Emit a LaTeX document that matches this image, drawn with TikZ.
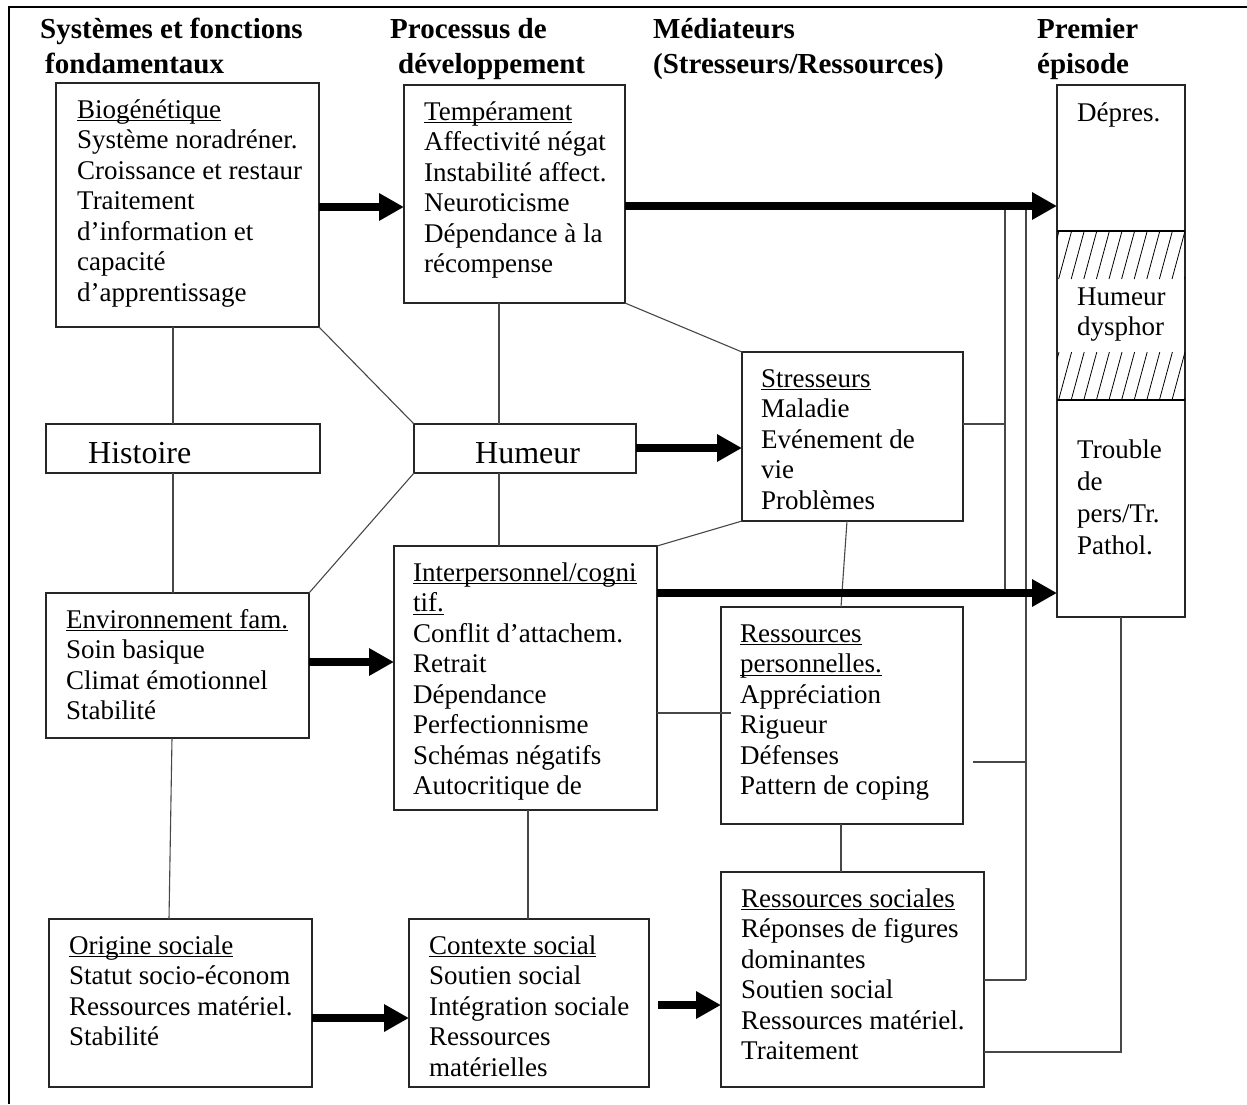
\documentclass[tikz,border=0pt]{standalone}
\usepackage{fontspec}
\setmainfont{Liberation Serif}
\usetikzlibrary{arrows.meta,calc}
\newsavebox\ulbox
\newcommand\FS{\rule{0pt}{0.93em}}
\newcommand\uln[1]{\sbox\ulbox{#1}\rlap{\rule[-3pt]{\wd\ulbox}{1.2pt}}\usebox\ulbox}
\newcommand\mkbox[5]{\node[boxst, minimum width=#4pt-#2pt, minimum height=#5pt-#3pt] (#1) at (#2,#3) {};}
\begin{document}
\begin{tikzpicture}[x=1pt,y=-1pt,
  boxst/.style={draw=black!85, line width=1.3pt, inner sep=0pt, outer sep=0pt, anchor=north west},
  txt/.style={anchor=north west, inner sep=0pt, align=left, font=\fontsize{27}{30.5}\selectfont},
  big/.style={anchor=base west, inner sep=0pt, font=\fontsize{32}{36}\selectfont},
  hdr/.style={anchor=north west, inner sep=0pt, align=left, font=\fontsize{29}{35}\selectfont\bfseries},
  conn/.style={draw=black!72, line width=1.1pt},
  fat/.style={line width=8pt, -{Triangle[length=25pt,width=26pt]}},
  hatch/.style={line width=0.8pt}]
\useasboundingbox (0,0) rectangle (1247,1104);
\fill[white] (0,0) rectangle (1247,1104);
% frame
\draw[line width=2.2pt] (1247,7) -- (9,7) -- (9,1104);
% headers
\node[hdr] (hd1) at (40,11) {\FS Systèmes et fonctions\\\hspace*{5pt}fondamentaux};
\node[hdr] (hd2) at (390,11) {\FS Processus de\\\hspace*{8pt}développement};
\node[hdr] (hd3) at (653,11) {\FS Médiateurs\\(Stresseurs/Ressources)};
\node[hdr] (hd4) at (1037,11) {\FS Premier\\épisode};
% boxes
\mkbox{bio}{56}{83}{319}{327}
\mkbox{temp}{404}{85}{625}{303}
\mkbox{hist}{46}{424}{320}{473}
\mkbox{hum}{414}{424}{636}{473}
\mkbox{stress}{742}{352}{963}{521}
\mkbox{inter}{394}{546}{657}{810}
\mkbox{env}{46}{593}{309}{738}
\mkbox{rpers}{721}{607}{963}{824}
\mkbox{orig}{49}{919}{312}{1087}
\mkbox{ctx}{409}{919}{649}{1087}
\mkbox{rsoc}{721}{872}{984}{1087}
\mkbox{prem}{1057}{85}{1185}{617}
% premier box inner
\coordinate (h231) at (0,231);
\coordinate (h400) at (0,400);
\begin{scope}
\clip (1057,231) rectangle (1185,279);
\foreach \i in {0,...,11} \draw[hatch] (1046+\i*12.6,279) -- ++(13,-48);
\end{scope}
\begin{scope}
\clip (1057,352) rectangle (1185,400);
\foreach \i in {0,...,11} \draw[hatch] (1046+\i*12.6,400) -- ++(13,-48);
\end{scope}
\draw[line width=1.1pt] (prem.west |- h231) -- (prem.east |- h231);
\draw[line width=1.1pt] (prem.west |- h400) -- (prem.east |- h400);
% texts
\node[txt] (bio-t) at (77,93) {\FS\uln{Biogénétique}\\Système noradréner.\\Croissance et restaur\\Traitement\\d’information et\\capacité\\d’apprentissage};
\node[txt] (temp-t) at (424,95) {\FS\uln{Tempérament}\\Affectivité négat\\Instabilité affect.\\Neuroticisme\\Dépendance à la\\récompense};
\node[big] (hist-t) at (88,463) {Histoire};
\node[big] (hum-t) at (475,463) {Humeur};
\node[txt] (stress-t) at (761,362) {\FS\uln{Stresseurs}\\Maladie\\Evénement de\\vie\\Problèmes};
\node[txt] (inter-t) at (413,556) {\FS\uln{Interpersonnel/cogni}\\\uln{tif.}\\Conflit d’attachem.\\Retrait\\Dépendance\\Perfectionnisme\\Schémas négatifs\\Autocritique de};
\node[txt] (env-t) at (66,603) {\FS\uln{Environnement fam.}\\Soin basique\\Climat émotionnel\\Stabilité};
\node[txt] (rpers-t) at (740,617) {\FS\uln{Ressources}\\\uln{personnelles.}\\Appréciation\\Rigueur\\Défenses\\Pattern de coping};
\node[txt] (orig-t) at (69,929) {\FS\uln{Origine sociale}\\Statut socio-économ\\Ressources matériel.\\Stabilité};
\node[txt] (ctx-t) at (429,929) {\FS\uln{Contexte social}\\Soutien social\\Intégration sociale\\Ressources\\matérielles};
\node[txt] (rsoc-t) at (741,882) {\FS\uln{Ressources sociales}\\Réponses de figures\\dominantes\\Soutien social\\Ressources matériel.\\Traitement};
\node[txt] (prem-t1) at (1077,96) {\FS Dépres.};
\node[txt] (prem-t2) at (1077,280) {\FS Humeur\\dysphor};
\node[txt, font=\fontsize{27}{32}\selectfont] (prem-t3) at (1077,433) {\FS Trouble\\de\\pers/Tr.\\Pathol.};
% helper coordinates
\coordinate (yA1) at (0,207);
\coordinate (yA2) at (0,206);
\coordinate (yA3) at (0,448);
\coordinate (yA4) at (0,662);
\coordinate (yA5) at (0,593);
\coordinate (yA6) at (0,1018);
\coordinate (yA7) at (0,1005);
\coordinate (x173) at (173,0);
\coordinate (x172) at (172,0);
\coordinate (x169) at (169,0);
\coordinate (x499) at (499,0);
\coordinate (x528) at (528,0);
\coordinate (x847) at (847,0);
\coordinate (x841) at (841,0);
\coordinate (yI) at (0,713);
\coordinate (yS) at (0,424);
\coordinate (yR) at (0,762);
\coordinate (v1t) at (1005,206);
\coordinate (v1b) at (1005,593);
\coordinate (v2t) at (1026,206);
\coordinate (v2b) at (1026,980);
\coordinate (pcorner) at (1121,1052);
% thin connectors
\draw[conn] (bio.south -| x173) -- (hist.north -| x173);
\draw[conn] (hist.south -| x173) -- (env.north -| x173);
\draw[conn] (env.south -| x172) -- (orig.north -| x169);
\draw[conn] (bio.south east) -- (hum.north west);
\draw[conn] (hum.south west) -- (env.north east);
\draw[conn] (temp.south -| x499) -- (hum.north -| x499);
\draw[conn] (hum.south -| x499) -- (inter.north -| x499);
\draw[conn] (temp.south east) -- (stress.north west);
\draw[conn] (inter.north east) -- (stress.south west);
\draw[conn] (stress.south -| x847) -- (rpers.north -| x841);
\draw[conn, shorten >=-10pt] (inter.east |- yI) -- (rpers.west |- yI);
\draw[conn] (inter.south -| x528) -- (ctx.north -| x528);
\draw[conn] (rpers.south -| x841) -- (rsoc.north -| x841);
\draw[conn] (stress.east |- yS) -- (v1t |- yS);
\draw[conn] (v1t) -- (v1b);
\draw[conn] (v2t) -- (v2b);
\draw[conn, shorten <=10pt] (rpers.east |- yR) -- (v2t |- yR);
\draw[conn] (rsoc.east |- v2b) -- (v2b);
\draw[conn] (prem.south -| pcorner) -- (pcorner) -- (rsoc.east |- pcorner);
% thick arrows
\draw[fat] (bio.east |- yA1) -- (temp.west |- yA1);
\draw[fat] (temp.east |- yA2) -- (prem.west |- yA2);
\draw[fat] (hum.east |- yA3) -- (stress.west |- yA3);
\draw[fat] (env.east |- yA4) -- (inter.west |- yA4);
\draw[fat] (inter.east |- yA5) -- (prem.west |- yA5);
\draw[fat] (orig.east |- yA6) -- (ctx.west |- yA6);
\draw[fat, shorten <=9pt] (ctx.east |- yA7) -- (rsoc.west |- yA7);
\end{tikzpicture}
\end{document}
